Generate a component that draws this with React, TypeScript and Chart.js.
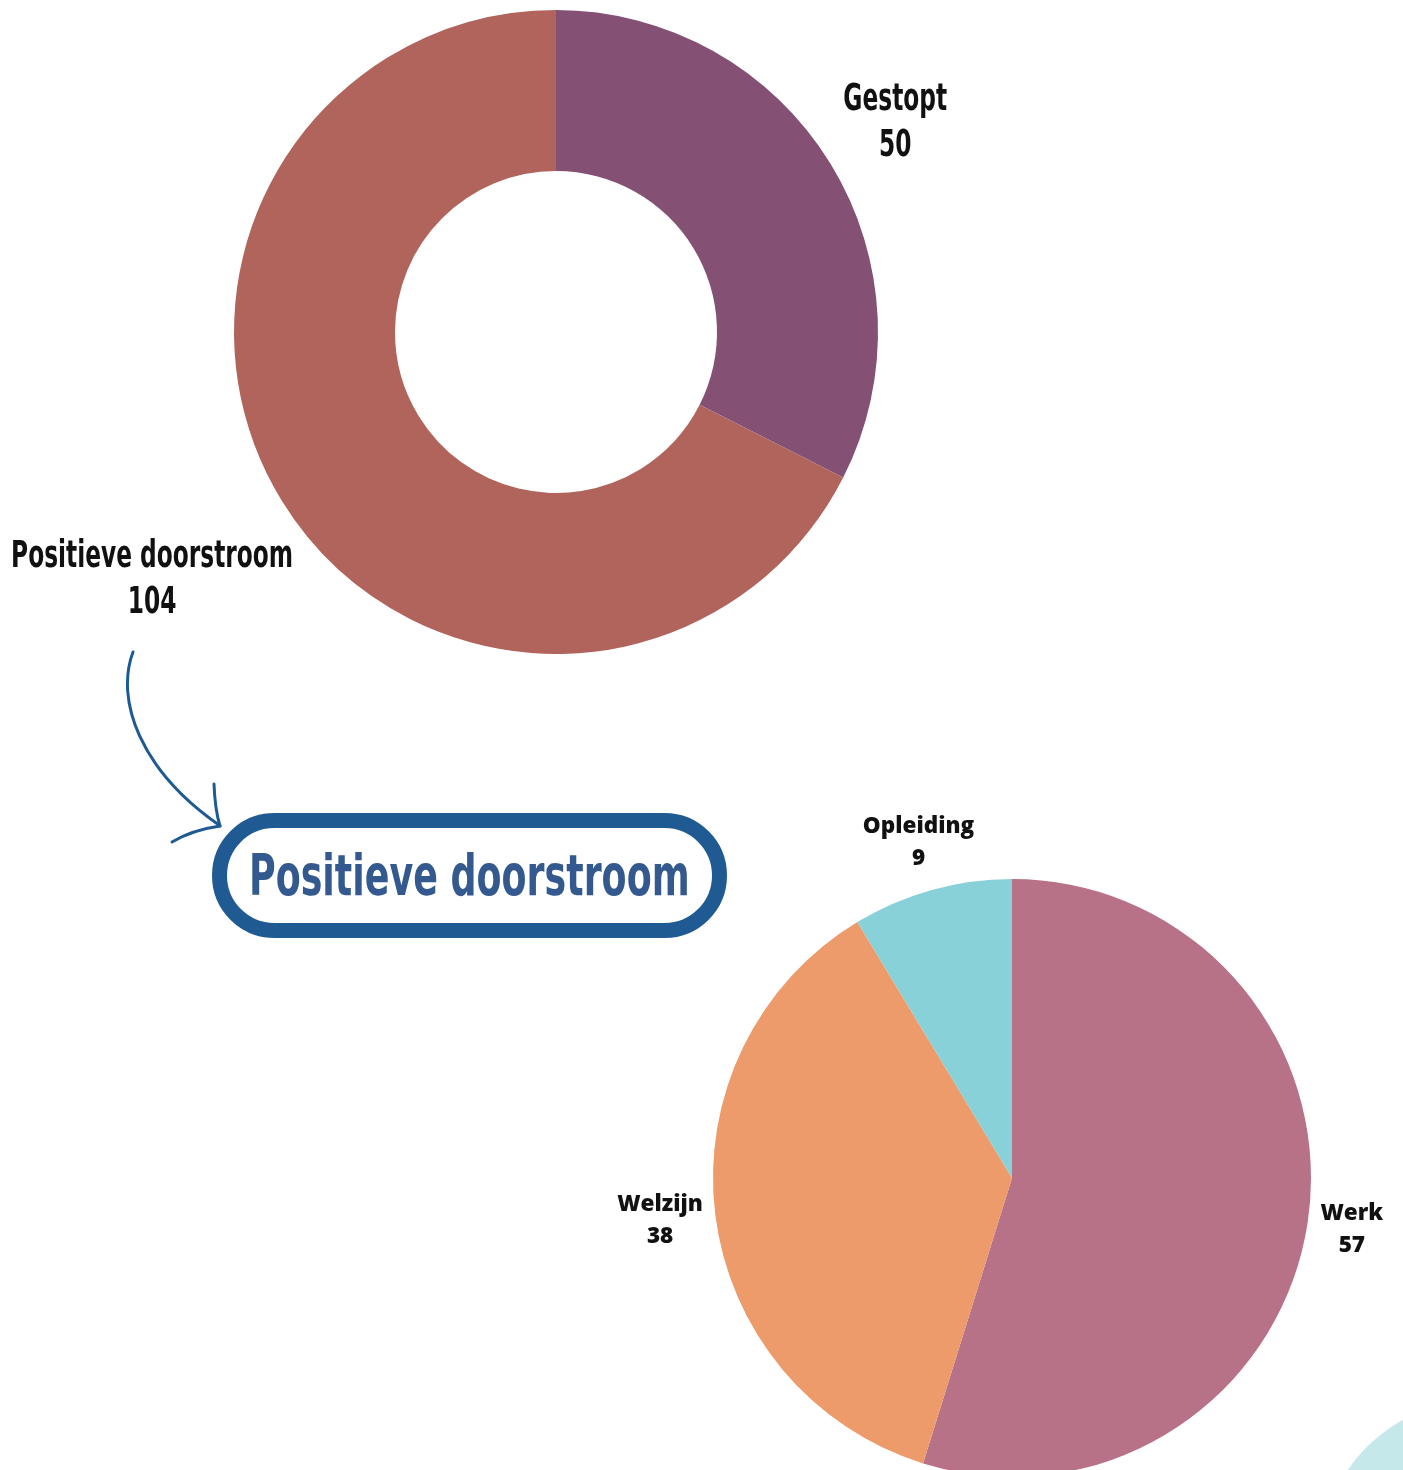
import React, { useEffect, useRef } from 'react';
import { Chart, registerables } from 'chart.js';

Chart.register(...registerables);

// ---- data ----
const outcomeLabels = ['Gestopt', 'Positieve doorstroom'];
const outcomeValues = [50, 104];
const outcomeColors = ['#845074', '#B1645C'];

const flowLabels = ['Werk', 'Welzijn', 'Opleiding'];
const flowValues = [57, 38, 9];
const flowColors = ['#B87287', '#ED9B6A', '#88D1D8'];

const boxTitle = 'Positieve doorstroom';

const W = 1403;
const H = 1470;

const CONDENSED = "'DejaVu Sans Condensed', 'DejaVu Sans', sans-serif";

const outLabelsPlugin = {
  id: 'outLabels',
  afterDraw(chart: any, _args: any, opts: any) {
    const ctx = chart.ctx as CanvasRenderingContext2D;
    const meta = chart.getDatasetMeta(0);
    const labels = chart.data.labels;
    const values = chart.data.datasets[0].data;
    ctx.save();
    ctx.font = opts.font;
    ctx.fillStyle = opts.color;
    ctx.textAlign = 'center';
    ctx.textBaseline = 'middle';
    meta.data.forEach((arc: any, i: number) => {
      const { x, y, startAngle, endAngle, outerRadius } = arc.getProps(
        ['x', 'y', 'startAngle', 'endAngle', 'outerRadius'],
        true
      );
      const mid = (startAngle + endAngle) / 2;
      const dx = Math.cos(mid);
      const dy = Math.sin(mid);
      const lines = [String(labels[i]), String(values[i])];
      const w = Math.max(...lines.map((l) => ctx.measureText(l).width)) * opts.scaleX;
      const h = opts.lineGap + opts.capBox;
      const push = (Math.abs(dx) * w) / 2 + (Math.abs(dy) * h) / 2;
      const d = outerRadius + opts.gap + push;
      const px = x + dx * d;
      const py = y + dy * d;
      lines.forEach((l, j) => {
        ctx.save();
        ctx.translate(px, py + (j - (lines.length - 1) / 2) * opts.lineGap);
        ctx.scale(opts.scaleX, 1);
        ctx.fillText(l, 0, 0);
        ctx.restore();
      });
    });
    ctx.restore();
  },
};

function useDonut(
  ref: React.RefObject<HTMLCanvasElement | null>,
  type: 'doughnut' | 'pie',
  labels: string[],
  values: number[],
  colors: string[],
  padding: any,
  cutout: string,
  labelOpts: any
) {
  useEffect(() => {
    if (!ref.current) return;
    const chart = new Chart(ref.current, {
      type,
      data: {
        labels,
        datasets: [
          {
            data: values,
            backgroundColor: colors,
            borderWidth: 0,
            hoverOffset: 0,
            offset: 0,
          },
        ],
      },
      options: {
        responsive: false,
        animation: false,
        events: [],
        cutout,
        layout: { padding },
        plugins: {
          legend: { display: false },
          tooltip: { enabled: false },
          // @ts-ignore
          outLabels: labelOpts,
        },
      } as any,
      plugins: [outLabelsPlugin as any],
    });
    return () => chart.destroy();
  }, []);
}

export default function App() {
  const topRef = useRef<HTMLCanvasElement>(null);
  const botRef = useRef<HTMLCanvasElement>(null);

  useDonut(
    topRef,
    'doughnut',
    outcomeLabels,
    outcomeValues,
    outcomeColors,
    { left: 234, top: 10, right: W - 234 - 644, bottom: H - 10 - 644 },
    '50%',
    {
      font: `bold 37px ${CONDENSED}`,
      color: '#111111',
      scaleX: 0.7,
      lineGap: 46,
      capBox: 30,
      gap: 12,
    }
  );

  useDonut(
    botRef,
    'pie',
    flowLabels,
    flowValues,
    flowColors,
    { left: 713, top: 879, right: W - 713 - 598, bottom: 1500 - 879 - 598 },
    '0%',
    {
      font: "800 22.5px 'Open Sans', 'Noto Sans', sans-serif",
      color: '#111111',
      scaleX: 1,
      lineGap: 32,
      capBox: 18,
      gap: 10,
    }
  );

  return (
    <div
      style={{
        position: 'absolute',
        left: 0,
        top: 0,
        width: W,
        height: H,
        overflow: 'hidden',
        background: '#ffffff',
      }}
    >
      <svg
        width={W}
        height={H}
        style={{ position: 'absolute', left: 0, top: 0 }}
      >
        <circle cx={1480} cy={1560} r={160} fill="#C5E8EA" />
        <path
          d="M 133 652 C 115 700, 140 770, 219 825"
          fill="none"
          stroke="#1F5A92"
          strokeWidth={3}
          strokeLinecap="round"
        />
        <path
          d="M 214 784 Q 215 810, 220 826"
          fill="none"
          stroke="#1F5A92"
          strokeWidth={3}
          strokeLinecap="round"
        />
        <path
          d="M 172 842 Q 192 830, 220 826"
          fill="none"
          stroke="#1F5A92"
          strokeWidth={3}
          strokeLinecap="round"
        />
        <rect
          x={219.5}
          y={820.5}
          width={500}
          height={110}
          rx={55}
          ry={55}
          fill="#ffffff"
          stroke="#1F5A92"
          strokeWidth={15}
        />
      </svg>
      <canvas
        ref={botRef}
        width={W}
        height={1500}
        style={{ position: 'absolute', left: 0, top: 0, display: 'block' }}
      />
      <canvas
        ref={topRef}
        width={W}
        height={H}
        style={{ position: 'absolute', left: 0, top: 0, display: 'block' }}
      />
      <div
        style={{
          position: 'absolute',
          left: 219,
          top: 820,
          width: 500,
          height: 110,
          display: 'flex',
          alignItems: 'center',
          justifyContent: 'center',
          fontFamily: CONDENSED,
          fontWeight: 'bold',
          fontSize: 57,
          color: '#34598F',
          whiteSpace: 'nowrap',
          lineHeight: 1,
        }}
      >
        <span
          style={{
            display: 'inline-block',
            transform: 'scaleX(0.71)',
            transformOrigin: 'center',
          }}
        >
          {boxTitle}
        </span>
      </div>
    </div>
  );
}
